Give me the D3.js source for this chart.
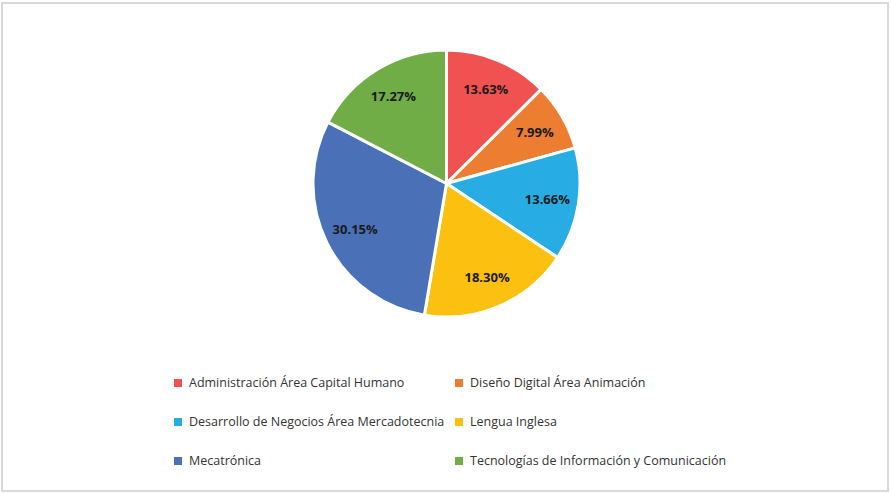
<!DOCTYPE html>
<html lang="es">
<head>
<meta charset="utf-8">
<script src="https://cdn.jsdelivr.net/npm/d3@7"></script>
<style>
  body { margin: 0; background: #fff; }
  svg text { font-family: "Open Sans", "Noto Sans", sans-serif; }
</style>
</head>
<body>
<svg id="chart" width="891" height="494"></svg>
<script>
// data
var categories = [
  "Administración Área Capital Humano",
  "Diseño Digital Área Animación",
  "Desarrollo de Negocios Área Mercadotecnia",
  "Lengua Inglesa",
  "Mecatrónica",
  "Tecnologías de Información y Comunicación"
];
// printed labels
var labels = ["13.63%", "7.99%", "13.66%", "18.30%", "30.15%", "17.27%"];
// slice sizes as drawn in the picture
var shares = [12.55, 8.15, 13.65, 18.30, 29.95, 17.40];
var colors = ["#F05252", "#ED7D31", "#27ADE3", "#FCC010", "#4A71B8", "#70AD47"];

var svg = d3.select("#chart");

// outer border
svg.append("rect")
  .attr("x", 2).attr("y", 3)
  .attr("width", 886).attr("height", 488)
  .attr("fill", "#fff")
  .attr("stroke", "#d9d9d9")
  .attr("stroke-width", 2);

var cx = 446.5, cy = 183.5, r = 133.5;

var pie = d3.pie().sort(null).value(d => d);
var arc = d3.arc().innerRadius(0).outerRadius(r);
var labelArc = d3.arc().innerRadius(r * 0.765).outerRadius(r * 0.765);

var g = svg.append("g").attr("transform", "translate(" + cx + "," + cy + ")");
var arcs = pie(shares);

g.selectAll("path")
  .data(arcs)
  .enter()
  .append("path")
  .attr("d", arc)
  .attr("fill", (d, i) => colors[i])
  .attr("stroke", "#fff")
  .attr("stroke-width", 3)
  .attr("stroke-linejoin", "round");

g.selectAll("text")
  .data(arcs)
  .enter()
  .append("text")
  .attr("transform", d => "translate(" + labelArc.centroid(d) + ")")
  .attr("text-anchor", "middle")
  .attr("dy", "0.35em")
  .attr("font-size", 13)
  .attr("font-weight", "bold")
  .attr("fill", "#1a1a1a")
  .text((d, i) => labels[i]);

// legend, two columns
var colX = [174, 455];
var rowY = [383, 422, 461];
var legend = svg.append("g");
var items = legend.selectAll("g")
  .data(categories)
  .enter()
  .append("g")
  .attr("transform", (d, i) => "translate(" + colX[i % 2] + "," + rowY[Math.floor(i / 2)] + ")");

items.append("rect")
  .attr("x", 0).attr("y", -4)
  .attr("width", 8).attr("height", 8)
  .attr("fill", (d, i) => colors[i]);

items.append("text")
  .attr("x", 15)
  .attr("dy", "0.35em")
  .attr("font-size", 12.5)
  .attr("fill", "#333")
  .text(d => d);
</script>
</body>
</html>
